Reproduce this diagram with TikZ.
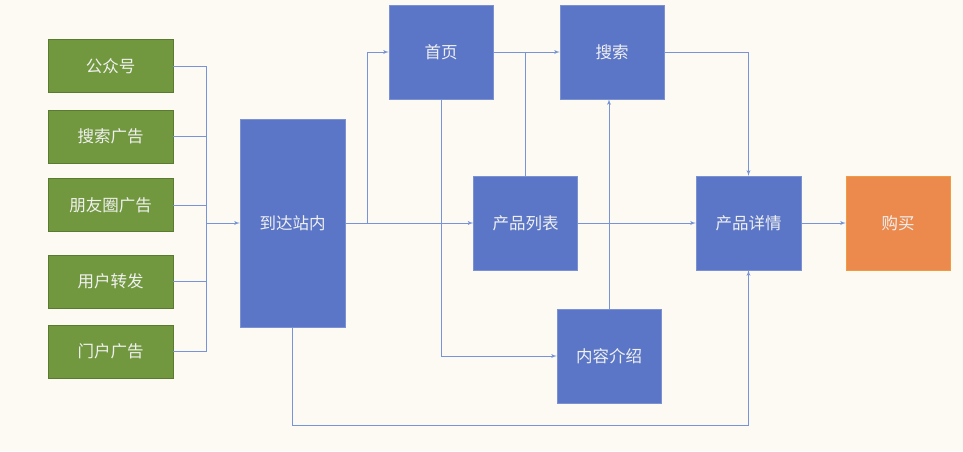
\documentclass[tikz,border=0pt]{standalone}
\usepackage{fontspec}
\usepackage{tikz}
\usepgflibrary{arrows}
\usetikzlibrary{shapes}
\usetikzlibrary{positioning}
\newfontfamily\cjk{Noto Sans CJK SC}
\definecolor{bgcream}{HTML}{FCFAF2}
\definecolor{srcgreen}{HTML}{71983F}
\definecolor{pageblue}{HTML}{5B76C6}
\definecolor{buyorange}{HTML}{EC8A4D}
\definecolor{linkblue}{HTML}{7894D8}
\begin{document}
\begin{tikzpicture}[x=1pt,y=-1pt]
			\tikzset{srcbox/.style = {shape=rectangle,draw=srcgreen!80!black,fill=srcgreen,
					minimum width=125pt,minimum height=53pt,inner sep=0pt,
					text=white!94!black,font=\cjk\fontsize{16.5}{18}\selectfont}}
			\tikzset{pagebox/.style = {shape=rectangle,draw=pageblue!80!white,fill=pageblue,
					minimum width=104pt,minimum height=94pt,inner sep=0pt,
					text=white!94!black,font=\cjk\fontsize{16.5}{18}\selectfont}}
			\tikzset{line/.style = {draw=linkblue,line width=0.9pt}}
			\tikzset{edge/.style = {line,->,> = latex'}}
			
			% background
			\fill[bgcream] (0,0) rectangle (963,451);
			
			% vertices
			\node[srcbox] (gzh) at (110.5,66) {公众号};
			\node[srcbox] (ssgg) at (110.5,136.5) {搜索广告};
			\node[srcbox] (pyq) at (110.5,205) {朋友圈广告};
			\node[srcbox] (yhzf) at (110.5,281.5) {用户转发};
			\node[srcbox] (mhgg) at (110.5,351.5) {门户广告};
			
			\node[pagebox, minimum width=105pt, minimum height=208pt] (dzzn) at (292.5,223) {到达站内};
			\node[pagebox] (sy) at (441,52) {首页};
			\node[pagebox] (ss) at (612,52) {搜索};
			\node[pagebox] (cplb) at (525.5,223) {产品列表};
			\node[pagebox] (nrjs) at (609,356) {内容介绍};
			\node[pagebox, minimum width=105pt] (cpxq) at (748.5,223) {产品详情};
			\node[pagebox, fill=buyorange, draw=buyorange!85!yellow] (gm) at (898,223) {购买};
			
			\coordinate (join) at (206,223);
			\coordinate (split) at (367,223);
			\coordinate (bot) at (520,425);
			
			%edges
			\draw[line] (gzh.east) -| (join);
			\draw[line] (ssgg.east) -| (join);
			\draw[line] (pyq.east) -| (join);
			\draw[line] (yhzf.east) -| (join);
			\draw[line] (mhgg.east) -| (join);
			\draw[edge] (join) to (dzzn.west);
			
			\draw[edge] (dzzn.east) to (cplb.west);
			\draw[edge] (split) |- (sy.west);
			\draw[edge] (sy.east) to (ss.west);
			\draw[line] (cplb.north) to (cplb.north |- sy.east);
			\draw[edge] (sy.south) |- (nrjs.west);
			\draw[edge] (nrjs.north) to (nrjs.north |- ss.south);
			\draw[edge] (ss.east) -| (cpxq.north);
			\draw[edge] (cplb.east) to (cpxq.west);
			\draw[edge] (dzzn.south) |- (bot) -| (cpxq.south);
			\draw[edge] (cpxq.east) to (gm.west);
			
\end{tikzpicture}
\end{document}
